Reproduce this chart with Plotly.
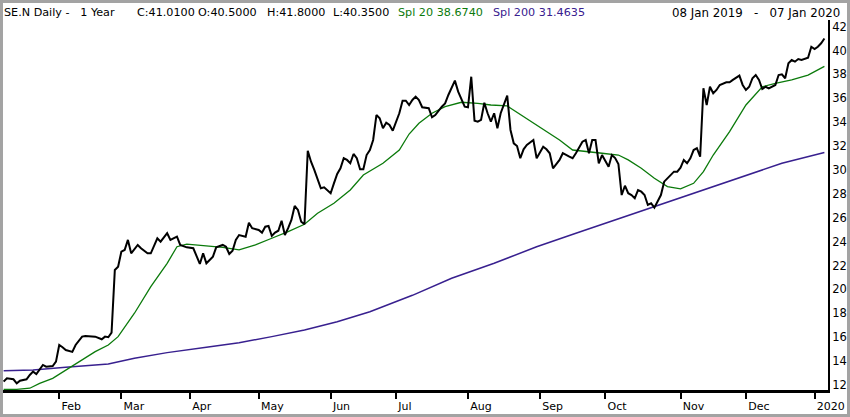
"""
SE.N daily close over one year with the 20 and 200 day splines,
laid out like the old terminal chart: right hand price scale,
trading-day time axis and the quote line across the top.
"""

import pandas as pd
import plotly.graph_objects as go

# trading sessions in the window, NYSE holidays taken out
holidays = ["2019-01-21", "2019-02-18", "2019-04-19", "2019-05-27", "2019-07-04",
            "2019-09-02", "2019-11-28", "2019-12-25", "2020-01-01"]
sessions = pd.bdate_range("2019-01-08", "2020-01-07", freq="C", holidays=holidays)

# session number (0 = 08 Jan 2019) and close
price_day = [0, 1, 3, 4, 5, 7, 8, 9, 10, 11, 12, 13, 15, 16, 17, 18, 19, 21, 22, 24,
             25, 28, 30, 31, 32, 33, 34, 35, 36, 37, 38, 39, 41, 42, 44, 45, 47, 48, 50, 51,
             53, 54, 56, 58, 60, 61, 62, 64, 65, 67, 68, 69, 70, 71, 72, 74, 75, 76, 78, 79,
             80, 81, 82, 83, 84, 85, 86, 87, 88, 89, 90, 91, 92, 93, 94, 95, 97, 98, 100, 101,
             102, 103, 104, 105, 106, 107, 108, 109, 110, 111, 112, 113, 114, 115, 116, 117, 118, 119, 121, 122,
             123, 124, 125, 126, 127, 128, 130, 131, 132, 134, 135, 136, 138, 139, 140, 141, 142, 143, 144, 145,
             146, 147, 148, 149, 150, 151, 152, 154, 155, 156, 157, 158, 159, 160, 162, 163, 165, 166, 167, 168,
             170, 171, 173, 174, 175, 177, 178, 179, 180, 181, 182, 183, 185, 186, 187, 188, 189, 190, 191, 192,
             193, 194, 195, 196, 197, 198, 199, 201, 202, 204, 205, 206, 207, 208, 209, 210, 211, 212, 213, 214,
             215, 216, 217, 218, 219, 221, 222, 223, 225, 226, 227, 228, 229, 230, 231, 232, 233, 234, 236, 237,
             238, 239, 240, 241, 242, 243, 244, 246, 247, 248, 249, 250, 251]
price_close = [12.27, 12.55, 12.47, 12.13, 12.35, 12.47, 12.83, 13.11, 12.91, 13.25, 13.67, 13.52, 13.58, 13.94, 15.34, 15.15, 14.92, 14.76, 15.34, 16.04,
               16.10, 16.04, 15.82, 16.04, 15.99, 16.37, 21.62, 21.90, 23.16, 23.30, 24.14, 23.02, 23.72, 23.44, 23.02, 23.02, 24.28, 23.99, 24.70, 24.14,
               24.41, 23.72, 23.52, 23.44, 22.13, 23.02, 22.18, 22.74, 23.52, 23.72, 23.57, 22.96, 23.24, 24.14, 24.55, 24.41, 25.58, 25.12, 24.97, 24.75,
               25.25, 25.31, 24.47, 24.75, 24.91, 25.75, 24.55, 25.12, 25.81, 26.98, 26.65, 25.67, 25.45, 31.61, 30.69, 30.00, 28.47, 28.55, 28.05, 28.88,
               29.66, 30.14, 30.98, 30.84, 30.56, 31.34, 30.98, 30.06, 30.06, 31.25, 31.67, 32.51, 34.60, 34.33, 33.49, 33.96, 33.77, 33.29, 34.75, 35.80,
               35.80, 35.44, 35.86, 36.14, 35.86, 35.25, 35.17, 34.41, 34.60, 35.30, 35.58, 36.28, 37.48, 36.56, 35.86, 35.30, 35.25, 37.81, 34.13, 34.04,
               34.19, 35.63, 34.75, 34.04, 34.75, 33.49, 34.75, 36.22, 33.35, 32.23, 32.01, 30.98, 31.73, 32.09, 32.51, 30.98, 31.95, 31.73, 31.40, 30.14,
               30.84, 31.40, 31.11, 30.98, 31.40, 32.37, 32.51, 31.40, 32.51, 32.51, 30.56, 31.25, 30.27, 31.25, 31.00, 30.50, 27.90, 28.68, 28.05, 27.90,
               27.63, 28.32, 28.18, 27.90, 27.07, 27.21, 26.84, 27.90, 29.02, 29.58, 29.86, 29.86, 30.19, 30.84, 30.56, 30.98, 31.67, 31.82, 31.11, 36.84,
               35.44, 36.97, 36.42, 36.70, 37.12, 37.34, 37.34, 37.54, 37.90, 37.12, 36.70, 36.97, 37.68, 37.95, 37.54, 36.78, 36.97, 36.84, 37.12, 37.95,
               38.01, 37.68, 38.93, 39.21, 39.07, 39.29, 39.21, 39.40, 40.32, 40.13, 40.32, 40.61, 41.01]

spl20_day = [0, 4, 8, 11, 15, 19, 23, 28, 32, 35, 40, 45, 50, 53, 56, 62, 67, 72, 77, 82,
             87, 92, 96, 101, 106, 110, 116, 121, 124, 127, 131, 135, 140, 145, 149, 154, 159, 165, 170, 174,
             178, 183, 188, 191, 195, 199, 203, 207, 211, 214, 217, 222, 227, 232, 236, 241, 246, 251]
spl20_value = [11.63, 11.63, 11.72, 12.13, 12.55, 13.25, 13.94, 14.78, 15.34, 16.04, 18.00, 20.22, 22.18, 23.57, 23.78, 23.63, 23.52, 23.30, 23.72, 24.28,
               24.83, 25.45, 26.37, 27.21, 28.32, 29.58, 30.56, 31.67, 33.01, 33.91, 34.75, 35.30, 35.67, 35.58, 35.44, 35.36, 34.46, 33.35, 32.51, 31.67,
               31.53, 31.40, 31.25, 30.84, 30.14, 29.30, 28.60, 28.41, 28.88, 29.86, 31.25, 33.21, 35.44, 36.97, 37.26, 37.54, 37.95, 38.674]

spl200_day = [0, 9, 19, 32, 40, 50, 62, 72, 82, 92, 102, 112, 125, 137, 150, 163, 175, 188, 199, 212,
              226, 238, 251]
spl200_value = [13.19, 13.25, 13.47, 13.75, 14.23, 14.70, 15.15, 15.53, 16.04, 16.60, 17.29, 18.13, 19.50, 20.93, 22.18, 23.57, 24.70, 25.90, 26.92, 28.18,
                29.44, 30.56, 31.4635]

month_labels = ["Feb", "Mar", "Apr", "May", "Jun", "Jul", "Aug", "Sep", "Oct", "Nov", "Dec", "2020"]
price_ticks = [12, 14, 16, 18, 20, 22, 24, 26, 28, 30, 32, 34, 36, 38, 40, 42]

last_open, last_high, last_low = 40.50, 41.80, 40.35

GREEN = "#0b7a0b"
INDIGO = "#38208f"
FONT = "DejaVu Sans"
NB = "\u00a0"


def build_figure():
    """Put the three lines, both axes and the header text together."""
    month_firsts = pd.date_range("2019-02-01", periods=12, freq="MS")
    month_pos = [int(sessions.searchsorted(m)) for m in month_firsts]

    def dates(days):
        return [sessions[d].strftime("%d %b %Y") for d in days]

    fig = go.Figure()
    fig.add_trace(go.Scatter(x=spl200_day, y=spl200_value, mode="lines", name="Spl 200",
                             line=dict(color=INDIGO, width=1.5), customdata=dates(spl200_day),
                             hovertemplate="%{customdata}<br>Spl 200 %{y:.4f}<extra></extra>"))
    fig.add_trace(go.Scatter(x=spl20_day, y=spl20_value, mode="lines", name="Spl 20",
                             line=dict(color=GREEN, width=1.3), customdata=dates(spl20_day),
                             hovertemplate="%{customdata}<br>Spl 20 %{y:.4f}<extra></extra>"))
    fig.add_trace(go.Scatter(x=price_day, y=price_close, mode="lines", name="SE.N",
                             line=dict(color="black", width=2), customdata=dates(price_day),
                             hovertemplate="%{customdata}<br>C:%{y:.4f}<extra></extra>"))

    left, right, top, bottom = 3, 22, 20, 27
    plot_w = 850 - left - right
    plot_h = 417 - top - bottom

    def px(x):
        # picture pixel -> paper fraction of the plot area
        return (x - left) / plot_w

    # quote line, each field pinned where the terminal prints it
    head_y = 1 + (top - 12.5) / plot_h
    pieces = [
        (2, f"SE.N Daily -{NB}{NB} 1 Year", "black"),
        (135, f"C:{price_close[-1]:.4f}", "black"),
        (196, f"O:{last_open:.4f}", "black"),
        (265, f"H:{last_high:.4f}", "black"),
        (331, f"L:{last_low:.4f}", "black"),
        (396, f"Spl 20 {spl20_value[-1]:.4f}", GREEN),
        (491, f"Spl 200 {spl200_value[-1]:.4f}", INDIGO),
    ]
    for x, text, color in pieces:
        fig.add_annotation(text=text, xref="paper", yref="paper", x=px(x), y=head_y,
                           xanchor="left", yanchor="middle", showarrow=False,
                           font=dict(family=FONT, size=11.2, color=color))
    span = (f"{sessions[0].strftime('%d %b %Y')}{NB}{NB} -{NB}{NB} "
            f"{sessions[-1].strftime('%d %b %Y')}")
    fig.add_annotation(text=span, xref="paper", yref="paper", x=px(842), y=head_y,
                       xanchor="right", yanchor="middle", showarrow=False,
                       font=dict(family=FONT, size=11.8, color="black"))

    # grey frame round the whole picture
    fig.add_shape(type="rect", xref="paper", yref="paper",
                  x0=px(1.5), x1=px(848.5),
                  y0=-(415.5 - (417 - bottom)) / plot_h, y1=1 + (top - 1.5) / plot_h,
                  line=dict(color="#a3a3a3", width=3))

    fig.update_layout(
        width=850, height=417,
        margin=dict(l=left, r=right, t=top, b=bottom),
        paper_bgcolor="white", plot_bgcolor="white",
        showlegend=False,
        font=dict(family=FONT, size=11, color="black"),
        xaxis=dict(range=[-0.2, 252.1], tickmode="array", tickvals=month_pos,
                   ticktext=month_labels, ticks="outside", ticklen=6, tickwidth=2,
                   tickcolor="black", ticklabelposition="outside right",
                   ticklabelstandoff=4,
                   showline=True, linecolor="black", linewidth=2.5,
                   showgrid=False, zeroline=False,
                   tickfont=dict(family=FONT, size=11, color="black")),
        yaxis=dict(side="right", range=[11.57, 42.56], tickmode="array",
                   tickvals=price_ticks, ticktext=[str(t) for t in price_ticks],
                   ticks="", showline=True, linecolor="black", linewidth=2,
                   showgrid=False, zeroline=False,
                   tickfont=dict(family=FONT, size=11.5, color="black")),
    )
    return fig


if __name__ == "__main__":
    fig = build_figure()
    # the page's default 8px body margin would push the chart off the window
    fig.write_html("out.html", config={"displayModeBar": False},
                   post_script="document.body.style.margin = '0';")
